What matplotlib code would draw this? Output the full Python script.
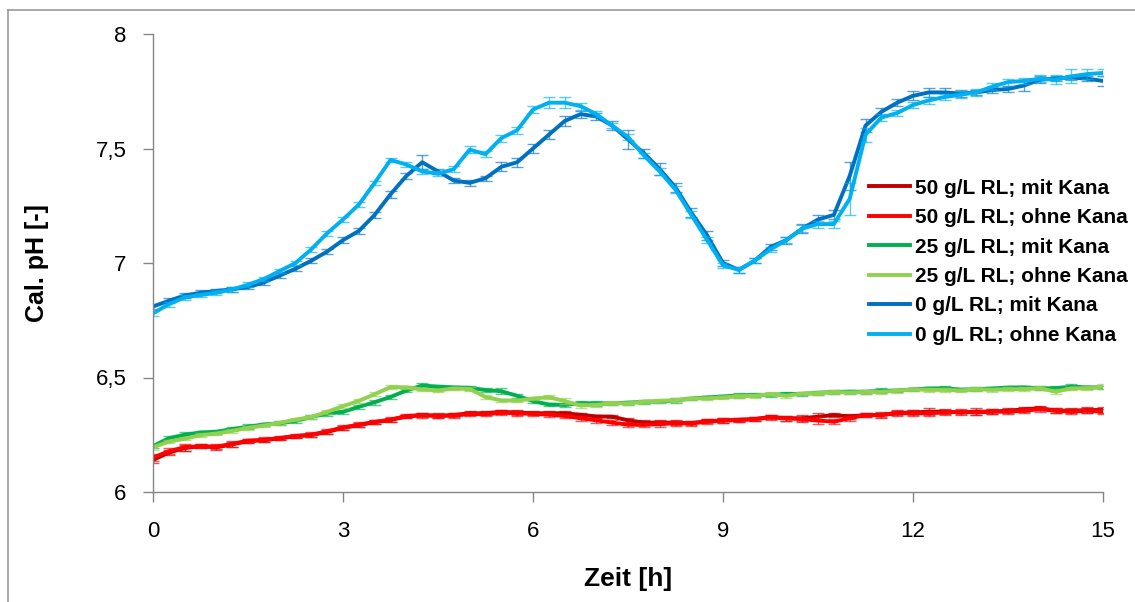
import numpy as np
import matplotlib.pyplot as plt
from matplotlib.lines import Line2D

# time axis: one reading every 0.25 h
zeit = np.arange(0, 15.01, 0.25)

# 50 g/L RL; mit Kana
ph_50_mit = [6.14, 6.172, 6.192, 6.20, 6.195, 6.208, 6.222, 6.226, 6.234, 6.243,
             6.249, 6.262, 6.28, 6.292, 6.305, 6.314, 6.33, 6.336, 6.333, 6.336,
             6.344, 6.344, 6.35, 6.347, 6.344, 6.344, 6.344, 6.337, 6.33, 6.329,
             6.313, 6.303, 6.303, 6.303, 6.30, 6.31, 6.312, 6.315, 6.318, 6.328,
             6.322, 6.322, 6.329, 6.336, 6.33, 6.336, 6.336, 6.346, 6.347, 6.351,
             6.351, 6.348, 6.351, 6.351, 6.355, 6.361, 6.366, 6.356, 6.355, 6.358,
             6.358]
# 50 g/L RL; ohne Kana
ph_50_ohne = [6.15, 6.178, 6.196, 6.20, 6.198, 6.21, 6.224, 6.228, 6.236, 6.245,
              6.25, 6.265, 6.282, 6.294, 6.306, 6.316, 6.332, 6.335, 6.332, 6.334,
              6.34, 6.34, 6.346, 6.344, 6.341, 6.338, 6.332, 6.322, 6.313, 6.303,
              6.294, 6.293, 6.297, 6.30, 6.30, 6.307, 6.312, 6.315, 6.318, 6.326,
              6.322, 6.318, 6.312, 6.307, 6.322, 6.336, 6.336, 6.344, 6.344, 6.344,
              6.347, 6.351, 6.347, 6.351, 6.351, 6.355, 6.361, 6.355, 6.351, 6.355,
              6.351]
# 25 g/L RL; mit Kana
ph_25_mit = [6.20, 6.235, 6.25, 6.26, 6.263, 6.275, 6.285, 6.295, 6.30, 6.31,
             6.328, 6.342, 6.35, 6.372, 6.392, 6.415, 6.443, 6.465, 6.46, 6.457,
             6.455, 6.445, 6.44, 6.42, 6.397, 6.382, 6.38, 6.388, 6.387, 6.387,
             6.39, 6.394, 6.395, 6.40, 6.408, 6.413, 6.417, 6.422, 6.424, 6.424,
             6.428, 6.428, 6.433, 6.437, 6.438, 6.438, 6.442, 6.443, 6.448, 6.452,
             6.453, 6.447, 6.449, 6.452, 6.456, 6.457, 6.453, 6.453, 6.46, 6.457,
             6.457]
# 25 g/L RL; ohne Kana
ph_25_ohne = [6.195, 6.22, 6.233, 6.248, 6.255, 6.267, 6.28, 6.29, 6.302, 6.316,
              6.328, 6.35, 6.375, 6.398, 6.427, 6.458, 6.457, 6.448, 6.443, 6.452,
              6.45, 6.415, 6.40, 6.399, 6.408, 6.414, 6.397, 6.378, 6.38, 6.388,
              6.387, 6.394, 6.398, 6.401, 6.408, 6.409, 6.413, 6.418, 6.42, 6.428,
              6.42, 6.43, 6.431, 6.437, 6.434, 6.437, 6.437, 6.442, 6.448, 6.446,
              6.446, 6.443, 6.449, 6.446, 6.449, 6.449, 6.453, 6.438, 6.452, 6.453,
              6.46]
# 0 g/L RL; mit Kana
ph_0_mit = [6.81, 6.835, 6.858, 6.87, 6.878, 6.885, 6.895, 6.915, 6.945, 6.975,
            7.01, 7.05, 7.10, 7.14, 7.21, 7.30, 7.38, 7.44, 7.40, 7.36,
            7.35, 7.37, 7.42, 7.44, 7.50, 7.56, 7.62, 7.65, 7.64, 7.60,
            7.54, 7.48, 7.41, 7.33, 7.22, 7.12, 7.00, 6.97, 7.01, 7.07,
            7.10, 7.15, 7.19, 7.21, 7.38, 7.60, 7.66, 7.70, 7.73, 7.745,
            7.745, 7.74, 7.745, 7.755, 7.76, 7.775, 7.80, 7.805, 7.81, 7.805,
            7.795]
# 0 g/L RL; ohne Kana
ph_0_ohne = [6.78, 6.82, 6.85, 6.86, 6.87, 6.885, 6.905, 6.93, 6.965, 7.00,
             7.06, 7.13, 7.19, 7.255, 7.35, 7.45, 7.43, 7.40, 7.39, 7.41,
             7.495, 7.475, 7.545, 7.58, 7.67, 7.70, 7.70, 7.685, 7.65, 7.60,
             7.55, 7.47, 7.40, 7.32, 7.21, 7.10, 6.99, 6.97, 7.01, 7.06,
             7.10, 7.15, 7.17, 7.17, 7.28, 7.56, 7.635, 7.655, 7.69, 7.71,
             7.725, 7.735, 7.745, 7.77, 7.79, 7.795, 7.805, 7.80, 7.815, 7.825,
             7.83]

# standard deviations (error bars)
err_50_mit = [0.012, 0.01, 0.012, 0.01, 0.01, 0.01, 0.008, 0.008, 0.008, 0.008,
              0.008, 0.01, 0.01, 0.01, 0.01, 0.01, 0.008, 0.01, 0.01, 0.008,
              0.008, 0.008, 0.01, 0.01, 0.008, 0.008, 0.01, 0.008, 0.008, 0.008,
              0.01, 0.01, 0.01, 0.01, 0.008, 0.01, 0.01, 0.01, 0.01, 0.01,
              0.01, 0.015, 0.015, 0.01, 0.01, 0.01, 0.015, 0.01, 0.01, 0.015,
              0.01, 0.01, 0.015, 0.01, 0.01, 0.01, 0.01, 0.01, 0.01, 0.012,
              0.012]
err_50_ohne = [0.015, 0.012, 0.015, 0.01, 0.012, 0.012, 0.008, 0.01, 0.01, 0.01,
               0.01, 0.01, 0.012, 0.01, 0.01, 0.01, 0.01, 0.01, 0.01, 0.01,
               0.01, 0.01, 0.01, 0.01, 0.01, 0.01, 0.01, 0.01, 0.01, 0.01,
               0.01, 0.01, 0.012, 0.01, 0.01, 0.01, 0.01, 0.01, 0.01, 0.01,
               0.01, 0.01, 0.015, 0.01, 0.012, 0.01, 0.01, 0.01, 0.012, 0.01,
               0.012, 0.012, 0.01, 0.012, 0.01, 0.01, 0.01, 0.01, 0.012, 0.012,
               0.012]
err_25_mit = [0.01, 0.01, 0.01, 0.008, 0.008, 0.01, 0.01, 0.008, 0.008, 0.008,
              0.008, 0.008, 0.01, 0.01, 0.01, 0.01, 0.008, 0.01, 0.008, 0.008,
              0.008, 0.008, 0.012, 0.008, 0.008, 0.008, 0.008, 0.008, 0.01, 0.008,
              0.008, 0.008, 0.008, 0.012, 0.008, 0.008, 0.008, 0.01, 0.008, 0.008,
              0.008, 0.008, 0.008, 0.008, 0.008, 0.008, 0.01, 0.008, 0.008, 0.008,
              0.008, 0.008, 0.008, 0.008, 0.008, 0.008, 0.008, 0.008, 0.01, 0.008,
              0.008]
err_25_ohne = [0.01, 0.008, 0.008, 0.008, 0.008, 0.008, 0.008, 0.008, 0.008, 0.008,
               0.008, 0.008, 0.008, 0.008, 0.008, 0.008, 0.008, 0.008, 0.008, 0.008,
               0.008, 0.008, 0.008, 0.008, 0.008, 0.008, 0.012, 0.01, 0.008, 0.008,
               0.008, 0.008, 0.008, 0.008, 0.008, 0.008, 0.008, 0.008, 0.008, 0.008,
               0.008, 0.008, 0.008, 0.008, 0.008, 0.008, 0.008, 0.008, 0.008, 0.008,
               0.008, 0.008, 0.008, 0.008, 0.008, 0.008, 0.008, 0.01, 0.008, 0.008,
               0.01]
err_0_mit = [0.01, 0.01, 0.01, 0.01, 0.008, 0.01, 0.01, 0.01, 0.01, 0.012,
             0.01, 0.012, 0.012, 0.012, 0.012, 0.015, 0.015, 0.03, 0.012, 0.012,
             0.012, 0.012, 0.02, 0.02, 0.02, 0.02, 0.02, 0.015, 0.015, 0.02,
             0.04, 0.02, 0.025, 0.02, 0.02, 0.02, 0.015, 0.012, 0.01, 0.015,
             0.015, 0.02, 0.02, 0.02, 0.06, 0.03, 0.015, 0.015, 0.02, 0.02,
             0.02, 0.015, 0.012, 0.012, 0.012, 0.025, 0.015, 0.012, 0.012, 0.012,
             0.02]
err_0_ohne = [0.012, 0.01, 0.01, 0.01, 0.01, 0.01, 0.01, 0.01, 0.01, 0.01,
              0.01, 0.01, 0.01, 0.01, 0.01, 0.01, 0.012, 0.012, 0.012, 0.012,
              0.015, 0.012, 0.015, 0.015, 0.015, 0.025, 0.025, 0.015, 0.012, 0.012,
              0.012, 0.012, 0.015, 0.015, 0.015, 0.012, 0.012, 0.012, 0.012, 0.012,
              0.012, 0.015, 0.015, 0.015, 0.07, 0.03, 0.015, 0.015, 0.015, 0.015,
              0.015, 0.015, 0.015, 0.015, 0.015, 0.015, 0.015, 0.02, 0.03, 0.02,
              0.015]

labels = ['50 g/L RL; mit Kana', '50 g/L RL; ohne Kana',
          '25 g/L RL; mit Kana', '25 g/L RL; ohne Kana',
          '0 g/L RL; mit Kana', '0 g/L RL; ohne Kana']
colors = ['#C00000', '#FF0000', '#00B050', '#92D050', '#0070C0', '#00B0F0']
series = [ph_50_mit, ph_50_ohne, ph_25_mit, ph_25_ohne, ph_0_mit, ph_0_ohne]
errors = [err_50_mit, err_50_ohne, err_25_mit, err_25_ohne, err_0_mit, err_0_ohne]

plt.rcParams['font.family'] = ['Liberation Sans', 'DejaVu Sans']

fig = plt.figure(figsize=(11.35, 6.02), dpi=100)
ax = fig.add_axes([153 / 1135, 1 - 492 / 602, 950 / 1135, 458 / 602])

for y, e, c, lab in zip(series, errors, colors, labels):
    ax.errorbar(zeit, y, yerr=e, fmt='none', ecolor=c, elinewidth=1.0,
                capsize=4, capthick=1.0, alpha=0.65)
    ax.plot(zeit, y, color=c, lw=2.8, label=lab, solid_capstyle='round')

ax.set_xlim(0, 15)
ax.set_ylim(6, 8)
ax.set_xticks([0, 3, 6, 9, 12, 15])
ax.set_yticks([6, 6.5, 7, 7.5, 8])
ax.set_yticklabels(['6', '6,5', '7', '7,5', '8'])
ax.tick_params(axis='both', direction='out', length=7, width=1, color='#868686',
               labelsize=16, labelcolor='black')
ax.tick_params(axis='x', pad=14)
ax.tick_params(axis='y', pad=12)
for side in ['top', 'right']:
    ax.spines[side].set_visible(False)
for side in ['left', 'bottom']:
    ax.spines[side].set_color('#868686')
    ax.spines[side].set_linewidth(1)

ax.set_xlabel('Zeit [h]', fontsize=19, fontweight='bold', labelpad=18)
ax.set_ylabel('Cal. pH [-]', fontsize=18, fontweight='bold', labelpad=34)

handles = [Line2D([0], [0], color=c, lw=2.8) for c in colors]
fig.legend(handles, labels, loc='upper left', bbox_to_anchor=(850 / 1135, 1 - 160 / 602),
           frameon=False, handlelength=2.0, handletextpad=0.2, labelspacing=0.5,
           prop={'weight': 'bold', 'size': 15})

# thin grey frame of the chart area
fig.add_artist(Line2D([8 / 1135, 8 / 1135], [0, 1 - 10 / 602], color='#9a9a9a', lw=1.2))
fig.add_artist(Line2D([8 / 1135, 1], [1 - 10 / 602, 1 - 10 / 602], color='#9a9a9a', lw=1.2))

fig.savefig('out.png', dpi=100)
